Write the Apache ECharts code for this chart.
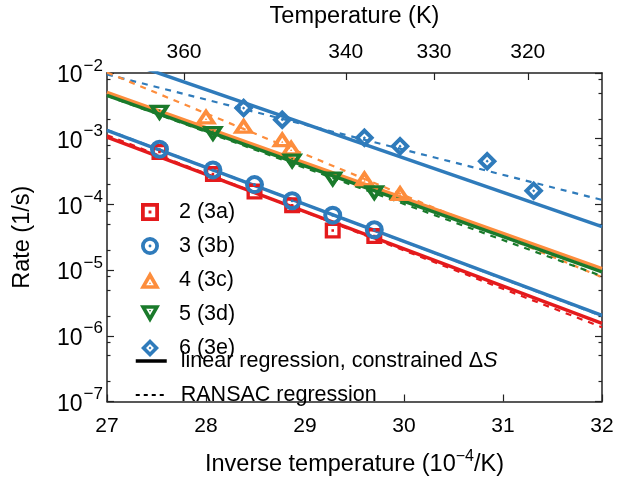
<!DOCTYPE html>
<html>
<head>
<meta charset="utf-8">
<script src="https://cdn.jsdelivr.net/npm/echarts@6/dist/echarts.min.js"></script>
<style>html,body{margin:0;padding:0;background:#fff}#c{width:619px;height:482px}</style>
</head>
<body>
<div id="c"></div>
<script>
// ---- data ----
const x2 = [27.53, 28.07, 28.49, 28.87, 29.28, 29.70];
const y2 = [6.3e-4, 2.9e-4, 1.57e-4, 9.7e-5, 4.0e-5, 3.3e-5];
const x3 = [27.53, 28.07, 28.49, 28.87, 29.28, 29.70];
const y3 = [6.9e-4, 3.35e-4, 2.0e-4, 1.14e-4, 6.85e-5, 4.1e-5];
const x4 = [28.00, 28.38, 28.77, 28.86, 29.60, 29.96];
const y4 = [2.2e-3, 1.59e-3, 9.9e-4, 7.4e-4, 2.52e-4, 1.51e-4];
const x5 = [27.53, 28.07, 28.87, 29.28, 29.70];
const y5 = [2.45e-3, 1.17e-3, 4.46e-4, 2.38e-4, 1.47e-4];
const x6 = [28.38, 28.77, 29.60, 29.96, 30.84, 31.31];
const y6 = [2.93e-3, 1.95e-3, 1.03e-3, 7.7e-4, 4.55e-4, 1.61e-4];

// regression lines: values at the x-axis ends
const fitX = [27, 32];
const fit2 = [1.06e-3, 1.55e-6];
const ransac2 = [1.13e-3, 1.35e-6];
const fit3 = [1.34e-3, 2.05e-6];
const ransac3 = [1.36e-3, 2.0e-6];
const fit4 = [5.06e-3, 1.05e-5];
const ransac4 = [1.02e-2, 7.8e-6];
const fit5 = [4.57e-3, 9.4e-6];
const ransac5 = [4.5e-3, 8.1e-6];
const fit6 = [1.86e-2, 4.6e-5];
const ransac6 = [9.5e-3, 1.17e-4];

const seriesNames = ['2 (3a)', '3 (3b)', '4 (3c)', '5 (3d)', '6 (3e)'];
const lineNames = ['linear regression, constrained ΔS', 'RANSAC regression'];
const topTempTicks = [360, 340, 330, 320];
const minorMantissa = [2, 5, 8];

// ---- styling ----
const FONT = 'Liberation Sans, Arial, Helvetica, sans-serif';
const RED = '#e41a1c', BLUE = '#2f7bbb', ORANGE = '#fd8d3c', GREEN = '#1a7a2b';
const AX = '#222';
const TICKFS = 21, TITLEFS = 23.5, LEGFS = 21.5;

const SYM_SQ = 'path://M0 0H100V100H0Z M21 21V79H79V21Z M42 42H58V58H42Z';
const SYM_CI = 'path://M0 50A50 50 0 1 1 100 50A50 50 0 1 1 0 50Z M21 50A29 29 0 1 0 79 50A29 29 0 1 0 21 50Z M42 50A8 8 0 1 1 58 50A8 8 0 1 1 42 50Z';
const SYM_TU = 'path://M50 0L100 87L0 87Z M50 37L31 70L69 70Z M50 53L55 63L45 63Z';
const SYM_TD = 'path://M0 0L100 0L50 87Z M31 17L50 50L69 17Z M45 24L55 24L50 34Z';
const SYM_DI = 'path://M50 0L100 50L50 100L0 50Z M50 28L28 50L50 72L72 50Z M50 42L58 50L50 58L42 50Z';

const zip = (xs, ys) => xs.map((x, i) => [x, ys[i]]);

const minorVals = [];
for (let e = -7; e <= -3; e++) minorMantissa.forEach(m => minorVals.push(Math.log10(m) + e));
const topVals = topTempTicks.map(t => 1e4 / t);

function lineSeries(name, ys, color, dashed) {
  return {
    name: name, type: 'line', data: zip(fitX, ys), xAxisIndex: 0, yAxisIndex: 0,
    showSymbol: false, symbol: 'none', silent: true, clip: true,
    lineStyle: dashed ? {color: color, width: 2.2, type: [6, 6]} : {color: color, width: 3.5},
    z: dashed ? 2 : 3
  };
}
function scatterSeries(name, xs, ys, color, sym, size) {
  return {
    name: name, type: 'scatter', data: zip(xs, ys), xAxisIndex: 0, yAxisIndex: 0,
    symbol: sym, symbolSize: size, symbolKeepAspect: true,
    itemStyle: {color: color, opacity: 1}, z: 5
  };
}

const tickRich = {
  b: {fontSize: 23, fontFamily: FONT, color: '#000', padding: [6, 0, 0, 0]},
  s: {fontSize: 17, fontFamily: FONT, color: '#000', padding: [0, 0, 14, 1]}
};
const titleRich = {
  b: {fontSize: TITLEFS, fontFamily: FONT, color: '#000'},
  s: {fontSize: 16, fontFamily: FONT, color: '#000', padding: [0, 0, 17, 0]}
};

const option = {
  animation: false,
  backgroundColor: '#fff',
  textStyle: {fontFamily: FONT},
  grid: {left: 107, right: 17, top: 72, bottom: 72, containLabel: false},
  xAxis: [
    {
      type: 'value', position: 'bottom', min: 27, max: 32, interval: 1,
      name: '{b|Inverse temperature (10}{s|−4}{b|/K)}', nameLocation: 'middle', nameGap: 47,
      nameTextStyle: {rich: titleRich},
      axisLine: {show: true, lineStyle: {color: AX, width: 1.5}},
      axisTick: {show: true, inside: true, length: 7, lineStyle: {color: AX, width: 1.2}},
      axisLabel: {fontSize: TICKFS, color: '#000', fontFamily: FONT, margin: 14},
      splitLine: {show: false}
    },
    {
      type: 'value', position: 'top', min: 27, max: 32,
      name: 'Temperature (K)', nameLocation: 'middle', nameGap: 44,
      nameTextStyle: {fontSize: TITLEFS, color: '#000', fontFamily: FONT},
      axisLine: {show: true, lineStyle: {color: AX, width: 1.5}},
      axisTick: {show: true, inside: true, length: 7, customValues: topVals, lineStyle: {color: AX, width: 1.2}},
      axisLabel: {fontSize: TICKFS, color: '#000', fontFamily: FONT, margin: 10, customValues: topVals,
        formatter: v => String(Math.round(1e4 / v))},
      splitLine: {show: false}
    }
  ],
  yAxis: [
    {
      type: 'log', position: 'left', min: 1e-7, max: 1e-2, logBase: 10,
      name: 'Rate (1/s)', nameLocation: 'middle', nameGap: 72,
      nameTextStyle: {fontSize: TITLEFS, color: '#000', fontFamily: FONT},
      axisLine: {show: true, lineStyle: {color: AX, width: 1.5}},
      axisTick: {show: true, inside: true, length: 7, lineStyle: {color: AX, width: 1.2}},
      axisLabel: {margin: 4, rich: tickRich,
        formatter: v => { const e = Math.round(Math.log10(v)); return '{b|10}{s|' + (e < 0 ? '−' : '') + Math.abs(e) + '}'; }},
      splitLine: {show: false}, minorTick: {show: false}
    },
    {
      type: 'value', position: 'left', min: -7, max: -2,
      axisLine: {show: false}, axisLabel: {show: false}, splitLine: {show: false},
      axisTick: {show: true, inside: true, length: 3.5, customValues: minorVals, lineStyle: {color: AX, width: 1.2}}
    },
    {
      type: 'value', position: 'right', min: -7, max: -2, interval: 1,
      axisLine: {show: true, lineStyle: {color: AX, width: 1.5}}, axisLabel: {show: false}, splitLine: {show: false},
      axisTick: {show: true, inside: true, length: 7, lineStyle: {color: AX, width: 1.2}}
    },
    {
      type: 'value', position: 'right', min: -7, max: -2,
      axisLine: {show: false}, axisLabel: {show: false}, splitLine: {show: false},
      axisTick: {show: true, inside: true, length: 3.5, customValues: minorVals, lineStyle: {color: AX, width: 1.2}}
    }
  ],
  legend: [
    {
      orient: 'vertical', left: 140, top: 201, padding: 0,
      itemWidth: 20, itemHeight: 18, itemGap: 12, symbolKeepAspect: true,
      data: seriesNames, selectedMode: false,
      textStyle: {fontSize: LEGFS, color: '#000', fontFamily: FONT, padding: [0, 0, 0, 14]}
    },
    {
      orient: 'vertical', left: 134, top: 350, padding: 0,
      itemWidth: 31, itemHeight: 18, itemGap: 12,
      data: [
        {name: lineNames[0], lineStyle: {color: '#000', width: 3.5, type: 'solid'}},
        {name: lineNames[1], lineStyle: {color: '#000', width: 2, type: [4, 4]}}
      ],
      selectedMode: false,
      formatter: n => n === lineNames[0] ? '{t|linear regression, constrained Δ}{i|S}' : '{t|' + n + '}',
      textStyle: {fontSize: LEGFS, color: '#000', fontFamily: FONT, padding: [0, 0, 0, 9],
        rich: {t: {fontSize: LEGFS, color: '#000', fontFamily: FONT}, i: {fontSize: LEGFS, color: '#000', fontFamily: FONT, fontStyle: 'italic'}}}
    }
  ],
  series: [
    lineSeries('r6', ransac6, BLUE, true),
    lineSeries('r4', ransac4, ORANGE, true),
    lineSeries('r5', ransac5, GREEN, true),
    lineSeries('r3', ransac3, BLUE, true),
    lineSeries('r2', ransac2, RED, true),
    lineSeries('f6', fit6, BLUE, false),
    lineSeries('f4', fit4, ORANGE, false),
    lineSeries('f5', fit5, GREEN, false),
    lineSeries('f2', fit2, RED, false),
    lineSeries('f3', fit3, BLUE, false),
    scatterSeries(seriesNames[0], x2, y2, RED, SYM_SQ, 16),
    scatterSeries(seriesNames[1], x3, y3, BLUE, SYM_CI, 19),
    scatterSeries(seriesNames[2], x4, y4, ORANGE, SYM_TU, [22, 19]),
    scatterSeries(seriesNames[3], x5, y5, GREEN, SYM_TD, [22, 19]),
    scatterSeries(seriesNames[4], x6, y6, BLUE, SYM_DI, 20),
    {name: lineNames[0], type: 'line', data: [], symbol: 'none', lineStyle: {color: '#000', width: 3.5}, itemStyle: {color: 'rgba(0,0,0,0)', borderWidth: 0}},
    {name: lineNames[1], type: 'line', data: [], symbol: 'none', lineStyle: {color: '#000', width: 2, type: [4, 4]}, itemStyle: {color: 'rgba(0,0,0,0)', borderWidth: 0}}
  ]
};

const chart = echarts.init(document.getElementById('c'), null, {renderer: 'canvas'});
chart.setOption(option);
</script>
</body>
</html>
